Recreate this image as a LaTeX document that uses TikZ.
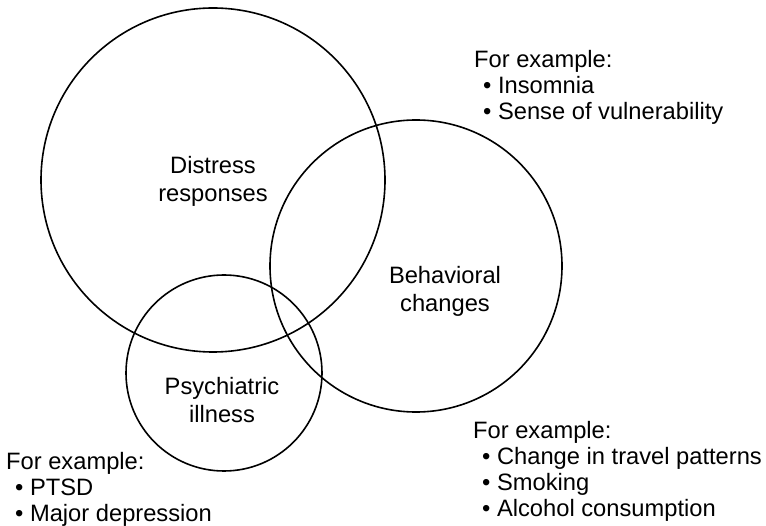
\documentclass[tikz,border=0pt]{standalone}
\usepackage{fontspec}
\setmainfont{Liberation Sans}
\newcommand{\exitem}[1]{\hspace*{9pt}\textbullet\ #1}
\begin{document}
\begin{tikzpicture}[x=1pt,y=-1pt,
  set/.style={line width=1.6pt},
  lbl/.style={align=center,inner sep=0pt,font=\fontsize{23.7pt}{28pt}\selectfont},
  ex/.style={align=left,anchor=north west,inner sep=0pt,font=\fontsize{23.7pt}{26pt}\selectfont}]
  \useasboundingbox (0,0) rectangle (766,526);
  % the three sets
  \draw[set] (213,180) circle (172);
  \draw[set] (416,266) circle (146);
  \draw[set] (224,373) circle (98);
  \node[lbl] (distress) at (213,181) {Distress\\responses};
  \node[lbl] (behav) at (445,291) {Behavioral\\changes};
  \node[lbl] (psych) at (222,400.5) {Psychiatric\\illness};
  % examples
  \node[ex] (exbehav) at (474,50) {For example:\\\exitem{Insomnia}\\\exitem{Sense of vulnerability}};
  \node[ex] (expsych) at (6,452) {For example:\\\exitem{PTSD}\\\exitem{Major depression}};
  \node[ex] (exmore) at (473,421) {For example:\\\exitem{Change in travel patterns}\\\exitem{Smoking}\\\exitem{Alcohol consumption}};
\end{tikzpicture}
\end{document}
